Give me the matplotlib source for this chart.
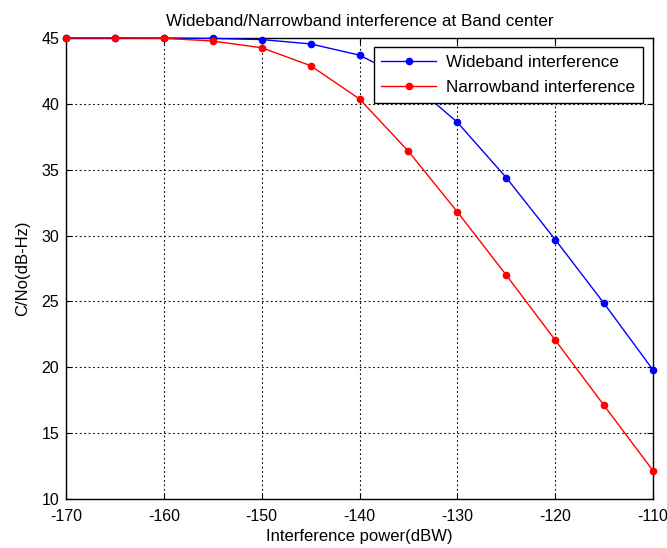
import numpy as np
import matplotlib
matplotlib.use("Agg")
import matplotlib.pyplot as plt

plt.rcParams['font.family'] = ['Liberation Sans', 'DejaVu Sans']
plt.rcParams['axes.unicode_minus'] = False

# ----- data -----
power_dbw = [-170, -165, -160, -155, -150, -145, -140, -135, -130, -125, -120, -115, -110]
wideband = [45.0, 45.0, 45.0, 44.97, 44.88, 44.55, 43.7, 41.8, 38.6, 34.4, 29.7, 24.85, 19.8]
narrowband = [45.0, 45.0, 44.98, 44.77, 44.26, 42.9, 40.37, 36.4, 31.8, 27.0, 22.07, 17.1, 12.15]

x_ticks = [-170, -160, -150, -140, -130, -120, -110]
y_ticks = [10, 15, 20, 25, 30, 35, 40, 45]

fs = 12

fig = plt.figure(figsize=(6.67, 5.48), dpi=100)
ax = fig.add_axes([66 / 667, 1 - 499 / 548, 587 / 667, 461 / 548])

ax.plot(power_dbw, wideband, color='#0000ff', marker='o', markersize=4.5,
        linewidth=1.0, label='Wideband interference', clip_on=False, zorder=3)
ax.plot(power_dbw, narrowband, color='#ff0000', marker='o', markersize=4.5,
        linewidth=1.0, label='Narrowband interference', clip_on=False, zorder=3)

ax.set_xlim(-170, -110)
ax.set_ylim(10, 45)
ax.set_xticks(x_ticks)
ax.set_yticks(y_ticks)
ax.tick_params(direction='in', labelsize=11.5, length=4, top=True, right=True)
ax.tick_params(axis='x', pad=7)
ax.tick_params(axis='y', pad=5)
ax.grid(True, color='black', linestyle=(0, (1.5, 2.5)), linewidth=0.8)
for s in ax.spines.values():
    s.set_linewidth(1.0)

ax.set_xlabel('Interference power(dBW)', fontsize=fs, labelpad=4)
ax.set_ylabel('C/No(dB-Hz)', fontsize=fs, labelpad=8)
ax.set_title('Wideband/Narrowband interference at Band center', fontsize=12.3, pad=9)

leg = ax.legend(loc='upper right', bbox_to_anchor=(0.983, 0.9805), borderaxespad=0,
                fontsize=12.3, fancybox=False, framealpha=1, edgecolor='black',
                borderpad=0.45, handlelength=3.2, labelspacing=0.6, handletextpad=0.6)
leg.get_frame().set_linewidth(1.0)

fig.savefig('out.png', dpi=100)
